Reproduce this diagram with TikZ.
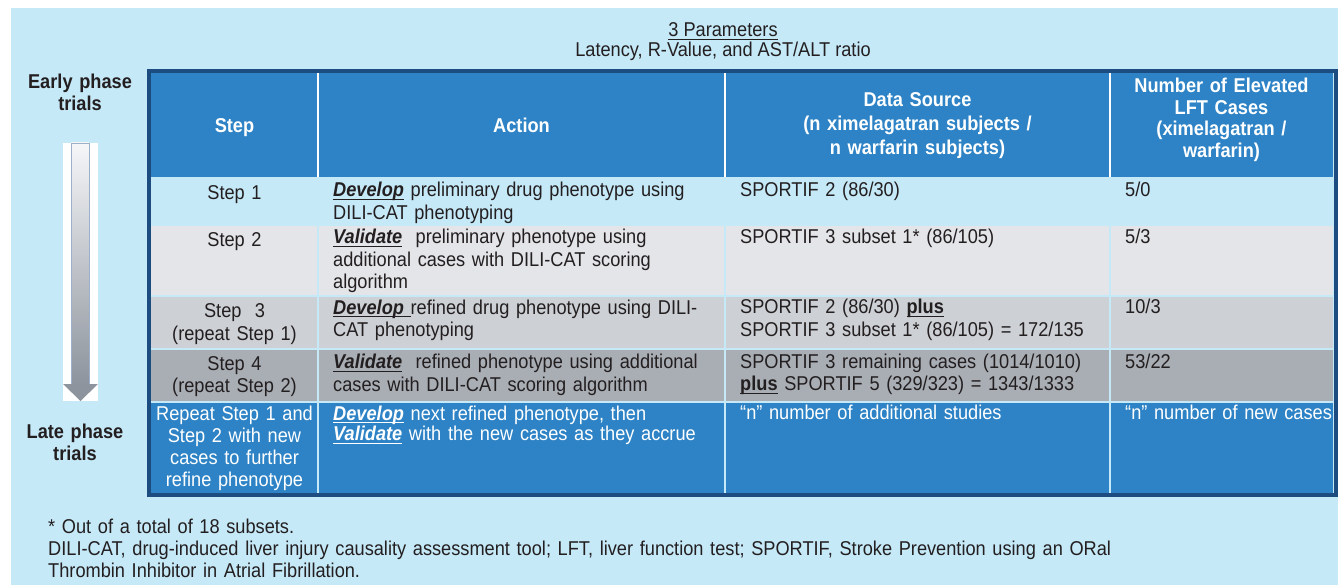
\documentclass[tikz,border=0pt]{standalone}
\usepackage{fontspec}
\setmainfont{Liberation Sans}[FakeStretch=0.91]

\definecolor{paleblue}{HTML}{C6E9F8}
\definecolor{headblue}{HTML}{2D83C5}
\definecolor{frameblue}{HTML}{1D4C80}
\definecolor{greyA}{HTML}{E4E5E9}
\definecolor{greyB}{HTML}{CDD0D5}
\definecolor{greyC}{HTML}{A9AEB5}
\definecolor{ink}{HTML}{231F20}
\definecolor{shaftedge}{HTML}{9DB0C9}
\definecolor{shaftdark}{HTML}{8D949D}
\definecolor{shaftlight}{HTML}{F5F6F8}

% underline at a fixed depth below the baseline
\newsavebox{\ulbox}
\newcommand{\ulined}[1]{\leavevmode\sbox{\ulbox}{#1}\rlap{\rule[-3pt]{\wd\ulbox}{1pt}}\usebox{\ulbox}}
\newcommand{\keyword}[1]{\ulined{\textbf{\textit{#1}}}}

\begin{document}
\begin{tikzpicture}[x=1pt,y=-1pt,
    txt/.style={inner sep=0pt,text=ink,font=\fontsize{20}{22.5}\selectfont},
    headcell/.style={inner sep=0pt,text=white,anchor=base,align=center,font=\fontsize{20}{24}\selectfont\bfseries},
    stepcell/.style={txt,anchor=base,text width=160pt,align=center},
    bodycell/.style={txt,anchor=base west,align=left}]
    \useasboundingbox (0,0) rectangle (1338,585);
    \fill[white] (0,0) rectangle (1338,585);
    \fill[paleblue] (11,8) rectangle (1338,585);

    % title
    \node[txt,anchor=base] (params) at (723,37) {\ulined{3 Parameters}};
    \node[txt,anchor=base] (ratios) at (723,57) {Latency, R-Value, and AST/ALT ratio};

    % phase arrow
    \fill[white] (63,143) rectangle (98,401);
    \shadedraw[top color=shaftlight,bottom color=shaftdark,draw=shaftedge,line width=0.8pt] (71,143) rectangle (89,384);
    \fill[shaftdark] (63,384) -- (98,384) -- (80.5,401) -- cycle;
    \node[txt,anchor=base,text width=120pt,align=center,font=\fontsize{20}{22}\selectfont\bfseries] (early) at (80,89) {Early phase\\trials};
    \node[txt,anchor=base,text width=120pt,align=center,font=\fontsize{20}{22}\selectfont\bfseries] (late) at (75,438) {Late phase\\trials};

    % table
    \fill[headblue] (151,73) rectangle (1333,177);
    \foreach \ya/\yb/\band in {177/225/paleblue,225/296/greyA,296/349/greyB,349/402/greyC,402/493/headblue}
        \fill[\band] (151,\ya) rectangle (1333,\yb);
    \foreach \x in {318,725,1110}{
        \draw[white,line width=1.2pt] (\x,73) -- (\x,177);
        \draw[paleblue,line width=1.2pt] (\x,177) -- (\x,493);
    }
    \foreach \y in {225,296,349,402}
        \draw[paleblue,line width=1.2pt] (151,\y) -- (1333,\y);
    \draw[frameblue,line width=4pt] (149,71) rectangle (1335.5,494.5);

    \node[headcell,text width=160pt] (hstep) at (234.5,133) {Step};
    \node[headcell,text width=200pt] (haction) at (521.5,133) {Action};
    \node[headcell,text width=370pt] (hsource) at (917.5,106.5) {Data Source\\(n ximelagatran subjects /\\n warfarin subjects)};
    \node[headcell,text width=215pt,font=\fontsize{20}{21.5}\selectfont\bfseries] (hcases) at (1221.5,93) {Number of Elevated\\LFT Cases\\(ximelagatran /\\warfarin)};

    \node[stepcell] (s1) at (234.5,200) {Step 1};
    \node[stepcell] (s2) at (234.5,247) {Step 2};
    \node[stepcell] (s3) at (234.5,317.5) {Step~ 3\\(repeat Step 1)};
    \node[stepcell] (s4) at (234.5,370) {Step 4\\(repeat Step 2)};
    \node[stepcell,text=white,font=\fontsize{20}{22}\selectfont] (s5) at (234.5,420) {Repeat Step 1 and\\Step 2 with new\\cases to further\\refine phenotype};

    \node[bodycell,text width=385pt] (a1) at (333,197) {\keyword{Develop} preliminary drug phenotype using\\DILI-CAT phenotyping};
    \node[bodycell,text width=385pt] (a2) at (333,244) {\keyword{Validate}\ \ preliminary phenotype using\\additional cases with DILI-CAT scoring\\algorithm};
    \node[bodycell,text width=385pt] (a3) at (333,314) {\keyword{Develop\ }refined drug phenotype using DILI-\\CAT phenotyping};
    \node[bodycell,text width=385pt] (a4) at (333,368.5) {\keyword{Validate}\ \ refined phenotype using additional\\cases with DILI-CAT scoring algorithm};
    \node[bodycell,text width=385pt,text=white,font=\fontsize{20}{20.5}\selectfont] (a5) at (333,420) {\keyword{Develop} next refined phenotype, then\\\keyword{Validate}\ with the new cases as they accrue};

    \node[bodycell,text width=365pt] (d1) at (740,197) {SPORTIF 2 (86/30)};
    \node[bodycell,text width=365pt] (d2) at (740,244) {SPORTIF 3 subset 1* (86/105)};
    \node[bodycell,text width=365pt] (d3) at (740,313.5) {SPORTIF 2 (86/30) \ulined{\textbf{plus}}\\SPORTIF 3 subset 1* (86/105) = 172/135};
    \node[bodycell,text width=365pt] (d4) at (740,368) {SPORTIF 3 remaining cases (1014/1010)\\\ulined{\textbf{plus}} SPORTIF 5 (329/323) = 1343/1333};
    \node[bodycell,text width=365pt,text=white] (d5) at (740,419.5) {“n” number of additional studies};

    \node[bodycell,text width=210pt] (c1) at (1125,197) {5/0};
    \node[bodycell,text width=210pt] (c2) at (1125,244) {5/3};
    \node[bodycell,text width=210pt] (c3) at (1125,313.5) {10/3};
    \node[bodycell,text width=210pt] (c4) at (1125,368) {53/22};
    \node[bodycell,text width=210pt,text=white] (c5) at (1125,419.5) {“n” number of new cases};

    % footnotes
    \node[bodycell,text width=1200pt,font=\fontsize{20}{22}\selectfont] (notes) at (48,533) {* Out of a total of 18 subsets.\\DILI-CAT, drug-induced liver injury causality assessment tool; LFT, liver function test; SPORTIF, Stroke Prevention using an ORal\\Thrombin Inhibitor in Atrial Fibrillation.};
\end{tikzpicture}
\end{document}
